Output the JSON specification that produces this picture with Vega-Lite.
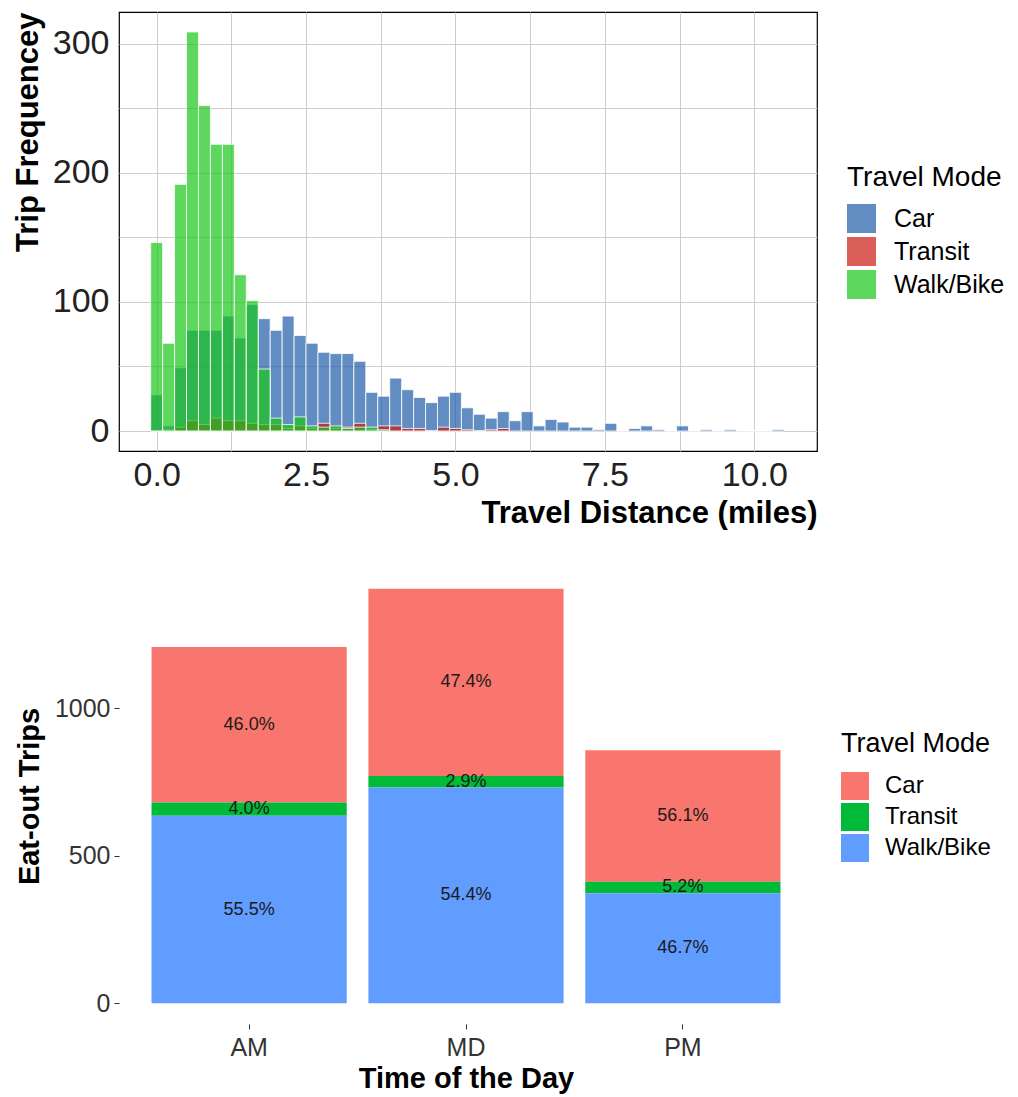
{
  "$schema": "https://vega.github.io/schema/vega-lite/v6.json",
  "background": "white",
  "padding": {"left": 11, "top": 11, "right": 2, "bottom": 5},
  "config": {
    "font": "Liberation Sans",
    "concat": {"spacing": 39},
    "axis": {"labelFont": "Liberation Sans", "titleFont": "Liberation Sans"},
    "legend": {"labelFont": "Liberation Sans", "titleFont": "Liberation Sans"}
  },
  "resolve": {"scale": {"color": "independent"}},
  "vconcat": [
    {
      "width": 698,
      "height": 439,
      "view": {"stroke": "black", "strokeWidth": 1.2},
      "data": {"values": [
        {"mode":"Car","lo":-0.1,"hi":0.1,"n":28},{"mode":"Car","lo":0.1,"hi":0.3,"n":4},{"mode":"Car","lo":0.3,"hi":0.5,"n":49},{"mode":"Car","lo":0.5,"hi":0.7,"n":78},{"mode":"Car","lo":0.7,"hi":0.9,"n":78},{"mode":"Car","lo":0.9,"hi":1.1,"n":78},{"mode":"Car","lo":1.1,"hi":1.3,"n":89},{"mode":"Car","lo":1.3,"hi":1.5,"n":72},{"mode":"Car","lo":1.5,"hi":1.7,"n":98},{"mode":"Car","lo":1.7,"hi":1.9,"n":87},
        {"mode":"Car","lo":1.9,"hi":2.1,"n":78},{"mode":"Car","lo":2.1,"hi":2.3,"n":89},{"mode":"Car","lo":2.3,"hi":2.5,"n":74},{"mode":"Car","lo":2.5,"hi":2.7,"n":68},{"mode":"Car","lo":2.7,"hi":2.9,"n":61},{"mode":"Car","lo":2.9,"hi":3.1,"n":60},{"mode":"Car","lo":3.1,"hi":3.3,"n":60},{"mode":"Car","lo":3.3,"hi":3.5,"n":54},{"mode":"Car","lo":3.5,"hi":3.7,"n":30},{"mode":"Car","lo":3.7,"hi":3.9,"n":27},
        {"mode":"Car","lo":3.9,"hi":4.1,"n":41},{"mode":"Car","lo":4.1,"hi":4.3,"n":32},{"mode":"Car","lo":4.3,"hi":4.5,"n":26},{"mode":"Car","lo":4.5,"hi":4.7,"n":22},{"mode":"Car","lo":4.7,"hi":4.9,"n":27},{"mode":"Car","lo":4.9,"hi":5.1,"n":30},{"mode":"Car","lo":5.1,"hi":5.3,"n":18},{"mode":"Car","lo":5.3,"hi":5.5,"n":13},{"mode":"Car","lo":5.5,"hi":5.7,"n":10},{"mode":"Car","lo":5.7,"hi":5.9,"n":15},
        {"mode":"Car","lo":5.9,"hi":6.1,"n":8},{"mode":"Car","lo":6.1,"hi":6.3,"n":15},{"mode":"Car","lo":6.3,"hi":6.5,"n":4},{"mode":"Car","lo":6.5,"hi":6.7,"n":9},{"mode":"Car","lo":6.7,"hi":6.9,"n":7},{"mode":"Car","lo":6.9,"hi":7.1,"n":3},{"mode":"Car","lo":7.1,"hi":7.3,"n":3},{"mode":"Car","lo":7.3,"hi":7.5,"n":1},{"mode":"Car","lo":7.5,"hi":7.7,"n":6},{"mode":"Car","lo":7.7,"hi":7.9,"n":0},
        {"mode":"Car","lo":7.9,"hi":8.1,"n":2},{"mode":"Car","lo":8.1,"hi":8.3,"n":4},{"mode":"Car","lo":8.3,"hi":8.5,"n":1},{"mode":"Car","lo":8.5,"hi":8.7,"n":0},{"mode":"Car","lo":8.7,"hi":8.9,"n":4},{"mode":"Car","lo":8.9,"hi":9.1,"n":0},{"mode":"Car","lo":9.1,"hi":9.3,"n":1},{"mode":"Car","lo":9.3,"hi":9.5,"n":0},{"mode":"Car","lo":9.5,"hi":9.7,"n":1},{"mode":"Car","lo":9.7,"hi":9.9,"n":0},
        {"mode":"Car","lo":9.9,"hi":10.1,"n":0},{"mode":"Car","lo":10.1,"hi":10.3,"n":0},{"mode":"Car","lo":10.3,"hi":10.5,"n":1},
        {"mode":"Transit","lo":-0.1,"hi":0.1,"n":0},{"mode":"Transit","lo":0.1,"hi":0.3,"n":1},{"mode":"Transit","lo":0.3,"hi":0.5,"n":3},{"mode":"Transit","lo":0.5,"hi":0.7,"n":8},{"mode":"Transit","lo":0.7,"hi":0.9,"n":5},{"mode":"Transit","lo":0.9,"hi":1.1,"n":10},{"mode":"Transit","lo":1.1,"hi":1.3,"n":8},{"mode":"Transit","lo":1.3,"hi":1.5,"n":8},{"mode":"Transit","lo":1.5,"hi":1.7,"n":6},{"mode":"Transit","lo":1.7,"hi":1.9,"n":5},
        {"mode":"Transit","lo":1.9,"hi":2.1,"n":5},{"mode":"Transit","lo":2.1,"hi":2.3,"n":2},{"mode":"Transit","lo":2.3,"hi":2.5,"n":4},{"mode":"Transit","lo":2.5,"hi":2.7,"n":2},{"mode":"Transit","lo":2.7,"hi":2.9,"n":6},{"mode":"Transit","lo":2.9,"hi":3.1,"n":2},{"mode":"Transit","lo":3.1,"hi":3.3,"n":3},{"mode":"Transit","lo":3.3,"hi":3.5,"n":6},{"mode":"Transit","lo":3.5,"hi":3.7,"n":1},{"mode":"Transit","lo":3.7,"hi":3.9,"n":4},
        {"mode":"Transit","lo":3.9,"hi":4.1,"n":4},{"mode":"Transit","lo":4.1,"hi":4.3,"n":2},{"mode":"Transit","lo":4.3,"hi":4.5,"n":2},{"mode":"Transit","lo":4.5,"hi":4.7,"n":0},{"mode":"Transit","lo":4.7,"hi":4.9,"n":3},{"mode":"Transit","lo":4.9,"hi":5.1,"n":2},{"mode":"Transit","lo":5.1,"hi":5.3,"n":1},{"mode":"Transit","lo":5.3,"hi":5.5,"n":0},{"mode":"Transit","lo":5.5,"hi":5.7,"n":1},{"mode":"Transit","lo":5.7,"hi":5.9,"n":2},
        {"mode":"Walk/Bike","lo":-0.1,"hi":0.1,"n":146},{"mode":"Walk/Bike","lo":0.1,"hi":0.3,"n":68},{"mode":"Walk/Bike","lo":0.3,"hi":0.5,"n":191},{"mode":"Walk/Bike","lo":0.5,"hi":0.7,"n":309},{"mode":"Walk/Bike","lo":0.7,"hi":0.9,"n":252},{"mode":"Walk/Bike","lo":0.9,"hi":1.1,"n":222},{"mode":"Walk/Bike","lo":1.1,"hi":1.3,"n":222},{"mode":"Walk/Bike","lo":1.3,"hi":1.5,"n":121},{"mode":"Walk/Bike","lo":1.5,"hi":1.7,"n":101},{"mode":"Walk/Bike","lo":1.7,"hi":1.9,"n":48},
        {"mode":"Walk/Bike","lo":1.9,"hi":2.1,"n":10},{"mode":"Walk/Bike","lo":2.1,"hi":2.3,"n":5},{"mode":"Walk/Bike","lo":2.3,"hi":2.5,"n":11},{"mode":"Walk/Bike","lo":2.5,"hi":2.7,"n":4},{"mode":"Walk/Bike","lo":2.7,"hi":2.9,"n":3},{"mode":"Walk/Bike","lo":2.9,"hi":3.1,"n":4},{"mode":"Walk/Bike","lo":3.1,"hi":3.3,"n":2},{"mode":"Walk/Bike","lo":3.3,"hi":3.5,"n":3},{"mode":"Walk/Bike","lo":3.5,"hi":3.7,"n":3},{"mode":"Walk/Bike","lo":3.7,"hi":3.9,"n":1}
      ]},
      "mark": {"type": "bar", "fillOpacity": 0.7, "stroke": "white", "strokeWidth": 0.8},
      "encoding": {
        "x": {
          "field": "lo", "type": "quantitative",
          "scale": {"domain": [-0.63, 11.05], "nice": false, "zero": false},
          "axis": {
            "values": [0, 1.25, 2.5, 3.75, 5, 6.25, 7.5, 8.75, 10],
            "labelExpr": "datum.value % 2.5 === 0 ? format(datum.value, '.1f') : ''",
            "grid": true, "gridColor": "#cdcdcd", "gridWidth": 1,
            "ticks": false, "domain": false, "labelFlush": false,
            "labelFontSize": 34, "labelColor": "#222222", "labelPadding": 7,
            "title": "Travel Distance (miles)", "titleFontSize": 31, "titleFontWeight": "bold",
            "titleColor": "black", "titleAnchor": "end", "titlePadding": 6
          }
        },
        "x2": {"field": "hi"},
        "y": {
          "field": "n", "type": "quantitative", "stack": null,
          "scale": {"domain": [-15.45, 324.45], "nice": false, "zero": false},
          "axis": {
            "values": [0, 50, 100, 150, 200, 250, 300],
            "labelExpr": "datum.value % 100 === 0 ? datum.label : ''",
            "grid": true, "gridColor": "#cdcdcd", "gridWidth": 1,
            "ticks": false, "domain": false, "labelFlush": false,
            "labelFontSize": 34, "labelColor": "#222222", "labelPadding": 10,
            "title": "Trip Frequencey", "titleFontSize": 31, "titleFontWeight": "bold",
            "titleColor": "black", "titleAnchor": "end", "titlePadding": 8
          }
        },
        "y2": {"datum": 0},
        "color": {
          "field": "mode", "type": "nominal",
          "scale": {"domain": ["Car", "Transit", "Walk/Bike"], "range": ["#1F5CA8", "#CA1B13", "#18C618"]},
          "legend": {
            "orient": "none", "legendX": 728, "legendY": 152,
            "title": "Travel Mode", "titleFontSize": 28, "titleFontWeight": "normal", "titleColor": "black", "titlePadding": 12,
            "labelFontSize": 25, "labelColor": "black", "labelOffset": 18,
            "symbolType": "square", "symbolSize": 841, "symbolStrokeWidth": 0, "symbolOpacity": 0.7,
            "rowPadding": 4
          }
        },
        "order": {"field": "mode"}
      }
    },
    {
      "width": 694,
      "height": 456,
      "view": {"stroke": null},
      "data": {"values": [
        {"time":"AM","mode":"Car","n":527,"label":"46.0%"},
        {"time":"AM","mode":"Transit","n":45,"label":"4.0%"},
        {"time":"AM","mode":"Walk/Bike","n":635,"label":"55.5%"},
        {"time":"MD","mode":"Car","n":634,"label":"47.4%"},
        {"time":"MD","mode":"Transit","n":39,"label":"2.9%"},
        {"time":"MD","mode":"Walk/Bike","n":731,"label":"54.4%"},
        {"time":"PM","mode":"Car","n":445,"label":"56.1%"},
        {"time":"PM","mode":"Transit","n":39,"label":"5.2%"},
        {"time":"PM","mode":"Walk/Bike","n":373,"label":"46.7%"}
      ]},
      "transform": [
        {"stack": "n", "groupby": ["time"], "sort": [{"field": "mode", "order": "descending"}], "as": ["y0", "y1"]},
        {"calculate": "(datum.y0 + datum.y1) / 2", "as": "ym"}
      ],
      "encoding": {
        "x": {
          "field": "time", "type": "nominal",
          "scale": {"paddingInner": 0.1, "paddingOuter": 0.15},
          "axis": {
            "labelAngle": 0, "labelFontSize": 25, "labelColor": "#333333", "labelPadding": 6,
            "ticks": true, "tickColor": "#333333", "tickSize": 5, "domain": false, "grid": false,
            "title": "Time of the Day", "titleFontSize": 29, "titleFontWeight": "bold", "titleColor": "black", "titlePadding": 4
          }
        }
      },
      "layer": [
        {
          "mark": {"type": "bar"},
          "encoding": {
            "y": {
              "field": "y0", "type": "quantitative",
              "scale": {"domain": [-70.2, 1474.2], "nice": false, "zero": false},
              "axis": {
                "values": [0, 500, 1000], "format": "d", "labelFontSize": 25, "labelColor": "#333333", "labelPadding": 4,
                "ticks": true, "tickColor": "#333333", "tickSize": 5, "domain": false, "grid": false,
                "title": "Eat-out Trips", "titleFontSize": 29, "titleFontWeight": "bold", "titleColor": "black", "titlePadding": 10
              }
            },
            "y2": {"field": "y1"},
            "color": {
              "field": "mode", "type": "nominal",
              "scale": {"domain": ["Car", "Transit", "Walk/Bike"], "range": ["#F8766D", "#00BA38", "#619CFF"]},
              "legend": {
                "orient": "none", "legendX": 722, "legendY": 163,
                "title": "Travel Mode", "titleFontSize": 27, "titleFontWeight": "normal", "titleColor": "black", "titlePadding": 14,
                "labelFontSize": 24, "labelColor": "black", "labelOffset": 16,
                "symbolType": "square", "symbolSize": 784, "symbolStrokeWidth": 0, "symbolOpacity": 1,
                "rowPadding": 3
              }
            }
          }
        },
        {
          "mark": {"type": "text", "fontSize": 18, "color": "#1a1a1a"},
          "encoding": {
            "y": {"field": "ym", "type": "quantitative"},
            "text": {"field": "label"}
          }
        }
      ]
    }
  ]
}
